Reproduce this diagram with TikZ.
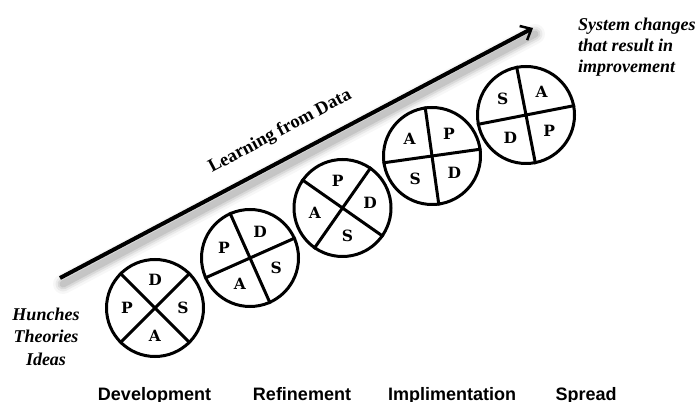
\documentclass[tikz,border=0pt]{standalone}
\usepackage{fontspec}
\setmainfont{Liberation Serif}
\newfontfamily\labelsans{Liberation Sans}
\newfontfamily\letterslab{DejaVu Serif}
\usetikzlibrary{arrows.meta,calc}

\tikzset{
  pdsa/.style={draw, line width=3pt, circle, minimum size=97pt, inner sep=0pt},
  divline/.style={line width=3pt},
  letter/.style={font=\letterslab\bfseries\fontsize{15.5}{15.5}\selectfont, inner sep=0pt},
  phase/.style={font=\labelsans\bfseries\fontsize{18}{18}\selectfont, anchor=base, inner sep=0pt},
  note/.style={font=\bfseries\itshape\fontsize{18}{22}\selectfont, inner sep=0pt},
  mainarrow/.style={line width=4pt, -{Straight Barb[length=9pt,width=16pt,line width=2.5pt]}},
}

\newcommand\pdsacircle[8]{%
  \node[pdsa] (#1) at (#2,#3) {};
  \pgfmathtruncatemacro\angA{#4}%
  \pgfmathtruncatemacro\angB{#4+180}%
  \pgfmathtruncatemacro\angC{#4+90}%
  \pgfmathtruncatemacro\angD{#4+270}%
  \draw[divline] (#1.\angA) -- (#1.\angB);
  \draw[divline] (#1.\angC) -- (#1.\angD);
  \path (#1.center) ++(#4+45:28) node[letter] (#1-l1) {#5};
  \path (#1.center) ++(#4+135:28) node[letter] (#1-l2) {#6};
  \path (#1.center) ++(#4+225:28) node[letter] (#1-l3) {#7};
  \path (#1.center) ++(#4+315:28) node[letter] (#1-l4) {#8};
}

\begin{document}
\begin{tikzpicture}[x=1pt,y=1pt]
\useasboundingbox (0,0) rectangle (700,401);

% arrow with soft shadow
\coordinate (start) at (60,123);
\coordinate (tip) at (533,373);
\foreach \w/\o in {20/0.03,15/0.05,11/0.07,7/0.09}{
  \draw[line width=\w pt, black, opacity=\o, line cap=round]
    ($(start)+(3,-6)$) -- ($(tip)+(2,-6)$);
}
\draw[mainarrow] (start) -- (tip);

\node[font=\bfseries\fontsize{18.5}{18.5}\selectfont, anchor=base west, rotate=28, inner sep=0pt]
  (learn) at (212,228) {Learning from Data};

% PDSA circles
\pdsacircle{c1}{155}{93}{45}{D}{P}{A}{S}
\pdsacircle{c2}{250}{143}{24}{D}{P}{A}{S}
\pdsacircle{c3}{342.5}{193}{55}{P}{A}{S}{D}
\pdsacircle{c4}{432}{245}{8}{P}{A}{S}{D}
\pdsacircle{c5}{526}{286}{11}{A}{S}{D}{P}

% side notes
\node[note, anchor=base] (n1) at (46,80) {Hunches};
\node[note, anchor=base] (n2) at (46,58) {Theories};
\node[note, anchor=base] (n3) at (46,36) {Ideas};

\node[note, anchor=base west] (r1) at (578,370) {System changes};
\node[note, anchor=base west] (r2) at (578,349) {that result in};
\node[note, anchor=base west] (r3) at (578,328) {improvement};

% phases
\node[phase] (dev) at (154.5,1) {Development};
\node[phase] (ref) at (302,1) {Refinement};
\node[phase] (imp) at (452,1) {Implimentation};
\node[phase] (spr) at (586,1) {Spread};
\end{tikzpicture}
\end{document}
